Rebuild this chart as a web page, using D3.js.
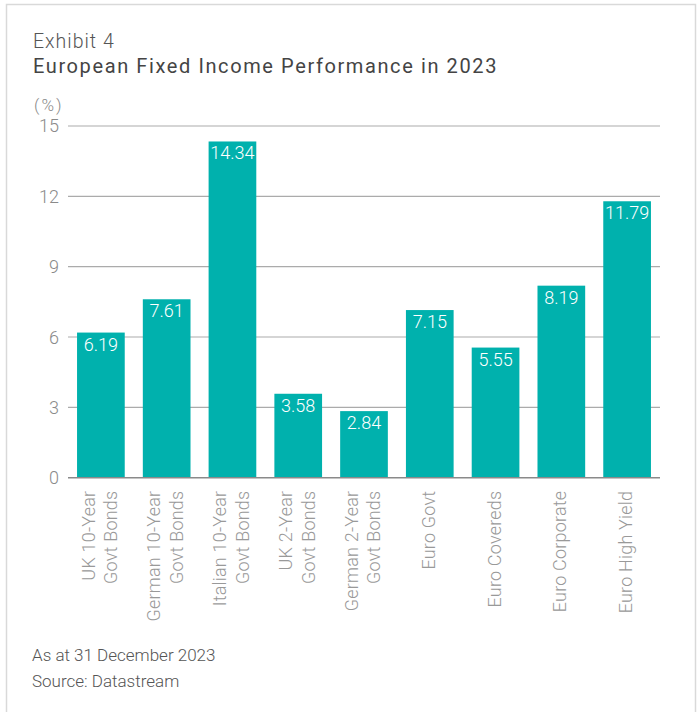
<!DOCTYPE html>
<html><head><meta charset="utf-8">
<script src="https://cdn.jsdelivr.net/npm/d3@7/dist/d3.min.js"></script>
<style>
html,body{margin:0;padding:0;background:#fff;}
svg{display:block;font-family:Roboto,"Liberation Sans",sans-serif;}
</style></head>
<body>
<script>
const categories = [
  ["UK 10-Year","Govt Bonds"],
  ["German 10-Year","Govt Bonds"],
  ["Italian 10-Year","Govt Bonds"],
  ["UK 2-Year","Govt Bonds"],
  ["German 2-Year","Govt Bonds"],
  ["Euro Govt"],
  ["Euro Covereds"],
  ["Euro Corporate"],
  ["Euro High Yield"]
];
const values = [6.19, 7.61, 14.34, 3.58, 2.84, 7.15, 5.55, 8.19, 11.79];
const yTicks = [0, 3, 6, 9, 12, 15];

const W = 698, H = 712;
const svg = d3.select("body").append("svg").attr("width", W).attr("height", H);

// card frame
svg.append("rect").attr("x", 6.5).attr("y", 4.5).attr("width", 689).attr("height", 720)
  .attr("fill", "#fff").attr("stroke", "#d9d9d9").attr("stroke-width", 1.5);

svg.append("text").attr("x", 33).attr("y", 48).attr("fill", "#555")
  .style("font-size", "19.5px").style("font-weight", 300).style("letter-spacing", "1px").text("Exhibit 4");
svg.append("text").attr("x", 33).attr("y", 73).attr("fill", "#444")
  .style("font-size", "20px").style("font-weight", 400).style("letter-spacing", "1.6px")
  .text("European Fixed Income Performance in 2023");

const x0 = 68, x1 = 660, yTop = 126, yBot = 477.7;
const idx = d3.range(values.length);
const x = d3.scaleBand().domain(idx).range([x0, x1]).paddingInner(0.275).paddingOuter(0.1375);
const y = d3.scaleLinear().domain([0, 15]).range([yBot, yTop]);

// grid
svg.append("g").selectAll("line").data(yTicks.filter(t => t > 0)).join("line")
  .attr("x1", x0).attr("x2", x1).attr("y1", d => y(d)).attr("y2", d => y(d))
  .attr("stroke", "#ababab").attr("stroke-width", 1.2);

// y tick labels
svg.append("g").selectAll("text").data(yTicks).join("text")
  .attr("x", 59).attr("y", d => y(d)).attr("dy", "0.36em").attr("text-anchor", "end")
  .attr("fill", "#8a8a8a").style("font-size", "18px").style("font-weight", 300).text(d => d);

svg.append("text").attr("x", 34).attr("y", 111).attr("fill", "#8a8a8a")
  .style("font-size", "17px").style("font-weight", 300).style("letter-spacing", "2px").text("(%)");

// bars
svg.append("g").selectAll("rect").data(values).join("rect")
  .attr("x", (d, i) => x(i)).attr("width", x.bandwidth())
  .attr("y", d => y(d)).attr("height", d => y(0) - y(d))
  .attr("fill", "#00b1ad");

// value labels
svg.append("g").selectAll("text").data(values).join("text")
  .attr("x", (d, i) => x(i) + x.bandwidth() / 2).attr("y", d => y(d) + 18)
  .attr("text-anchor", "middle").attr("fill", "#fff")
  .style("font-size", "18px").style("font-weight", 300).text(d => d.toFixed(2));

// baseline
svg.append("line").attr("x1", x0).attr("x2", x1).attr("y1", y(0)).attr("y2", y(0))
  .attr("stroke", "#8a8a8a").attr("stroke-width", 1.5);

// category labels (rotated)
const lineH = 22.5;
const cg = svg.append("g");
categories.forEach((lines, i) => {
  const cx = x(i) + x.bandwidth() / 2;
  const n = lines.length;
  const g = cg.append("g").attr("transform", `translate(${cx},${y(0) + 13}) rotate(-90)`);
  lines.forEach((s, j) => {
    const off = (j - (n - 1) / 2) * lineH;
    g.append("text").attr("x", 0).attr("y", off).attr("dy", "0.28em")
      .attr("text-anchor", "end").attr("fill", "#999")
      .style("font-size", "18px").style("font-weight", 300).style("letter-spacing", "0.2px").text(s);
  });
});

svg.append("text").attr("x", 32).attr("y", 661).attr("fill", "#555")
  .style("font-size", "17px").style("font-weight", 300).text("As at 31 December 2023");
svg.append("text").attr("x", 32).attr("y", 687).attr("fill", "#555")
  .style("font-size", "17px").style("font-weight", 300).text("Source: Datastream");
</script>
</body></html>
